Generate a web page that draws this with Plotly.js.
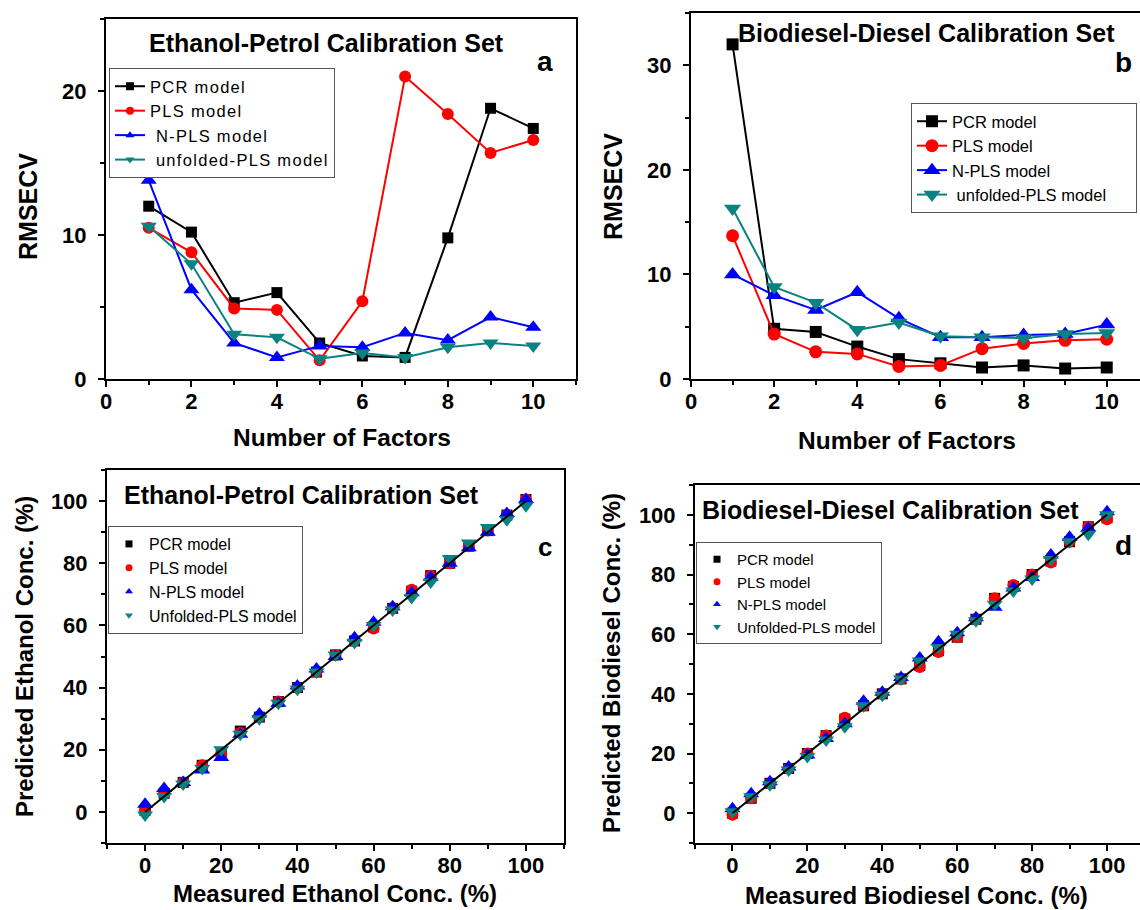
<!DOCTYPE html>
<html>
<head>
<meta charset="utf-8">
<script src="https://cdn.plot.ly/plotly-3.0.1.min.js"></script>
<style>html,body{margin:0;padding:0;background:#fff;}#chart{width:1140px;height:910px;}.legendtext{letter-spacing:1.3px;}</style>
</head>
<body>
<div id="chart"></div>
<script>
// ---------- data ----------
const factors = [1, 2, 3, 4, 5, 6, 7, 8, 9, 10];
// Panel a: Ethanol-Petrol RMSECV
const aPCR  = [12.0, 10.2, 5.3, 6.0, 2.5, 1.6, 1.5, 9.8, 18.8, 17.4];
const aPLS  = [10.5, 8.8, 4.9, 4.8, 1.3, 5.4, 21.0, 18.4, 15.7, 16.6];
const aNPLS = [13.8, 6.2, 2.5, 1.5, 2.3, 2.2, 3.2, 2.7, 4.3, 3.6];
const aUPLS = [10.6, 8.0, 3.1, 2.9, 1.4, 1.8, 1.5, 2.2, 2.5, 2.3];
// Panel b: Biodiesel-Diesel RMSECV
const bPCR  = [32.0, 4.8, 4.5, 3.1, 1.9, 1.5, 1.1, 1.3, 1.0, 1.1];
const bPLS  = [13.7, 4.3, 2.6, 2.4, 1.2, 1.3, 2.9, 3.4, 3.7, 3.8];
const bNPLS = [10.0, 8.0, 6.6, 8.3, 5.8, 4.0, 4.0, 4.2, 4.3, 5.2];
const bUPLS = [16.3, 8.8, 7.3, 4.7, 5.4, 4.1, 4.0, 3.9, 4.3, 4.4];
// Panels c, d: measured vs predicted
const measured = [0, 5, 10, 15, 20, 25, 30, 35, 40, 45, 50, 55, 60, 65, 70, 75, 80, 85, 90, 95, 100];
const cPCR  = [0.5, 6, 9.5, 15, 18.5, 26, 30.5, 35.5, 40, 45, 50.5, 55, 59.5, 65.5, 71, 76, 80, 85.5, 90.5, 95.5, 100.5];
const cPLS  = [0.5, 6, 9.5, 15, 18.5, 25.5, 30.5, 35.5, 40, 45, 50.5, 55, 59, 65.5, 71.5, 76, 80, 85.5, 90.5, 95.5, 100.5];
const cNPLS = [2.5, 7.5, 9.5, 13.5, 17.5, 25, 31.5, 35, 40.5, 46, 50, 56, 61, 66, 70.5, 75.5, 80, 85, 90, 96, 100.5];
const cUPLS = [-1, 5, 9, 14, 20, 25, 30, 35, 39.5, 45, 50.5, 54.5, 60, 65, 69, 74, 81.5, 86.5, 91.5, 94, 98.5];
const dPCR  = [0, 5, 10, 15, 20, 26, 31.5, 36, 40, 45, 49.5, 54.5, 59, 65, 72, 76, 80, 84.5, 91, 96, 99];
const dPLS  = [-0.5, 5, 10, 15, 20, 26, 32, 36, 40, 45, 49, 54, 59, 65, 72, 76.5, 80, 84, 91, 96, 98.5];
const dNPLS = [1.5, 6.5, 10.5, 15.5, 19.5, 25, 30, 37.5, 40.5, 45.5, 52, 57.5, 60.5, 65.5, 69, 75.5, 79, 86.5, 92.5, 95.5, 101];
const dUPLS = [0.5, 5.5, 9.5, 14.5, 19, 24.5, 29, 36, 39.5, 45, 51, 55.5, 60, 64.5, 70, 74.5, 78.5, 85, 91, 93.5, 100];
const fitX = [0, 100];
const fitY = [0, 100];

const NB = '\u00a0';
const modelNamesA = ['PCR model', 'PLS model', NB + 'N-PLS model', NB + 'unfolded-PLS model'];
const modelNamesB = ['PCR model', 'PLS model', 'N-PLS model', NB + 'unfolded-PLS model'];
const modelNamesCD = ['PCR model', 'PLS model', 'N-PLS model', 'Unfolded-PLS model'];
const colors = ['#000000', '#ff0000', '#0000ff', '#0a8282'];
const symbols = ['square', 'circle', 'triangle-up', 'triangle-down'];
const sizes = [11, 12, 14, 14];

// ---------- traces ----------
const traces = [];
const aSeries = [aPCR, aPLS, aNPLS, aUPLS];
const bSeries = [bPCR, bPLS, bNPLS, bUPLS];
const cSeries = [cPCR, cPLS, cNPLS, cUPLS];
const dSeries = [dPCR, dPLS, dNPLS, dUPLS];

aSeries.forEach((ys, i) => {
  traces.push({x: factors, y: ys, xaxis: 'x', yaxis: 'y', mode: 'lines+markers', showlegend: false,
    line: {color: colors[i], width: 2}, marker: {symbol: symbols[i], size: sizes[i], color: colors[i]}});
});
aSeries.forEach((ys, i) => {
  traces.push({x: [null], y: [null], xaxis: 'x', yaxis: 'y', mode: 'lines+markers', name: modelNamesA[i], legend: 'legend',
    line: {color: colors[i], width: 2}, marker: {symbol: symbols[i], size: 8, color: colors[i]}});
});
bSeries.forEach((ys, i) => {
  traces.push({x: factors, y: ys, xaxis: 'x2', yaxis: 'y2', mode: 'lines+markers', name: modelNamesB[i], legend: 'legend2',
    line: {color: colors[i], width: 2}, marker: {symbol: symbols[i], size: sizes[i] + 1, color: colors[i]}});
});
cSeries.forEach((ys, i) => {
  traces.push({x: measured, y: ys, xaxis: 'x3', yaxis: 'y3', mode: 'markers', showlegend: false,
    marker: {symbol: symbols[i], size: sizes[i], color: colors[i]}});
});
traces.push({x: fitX, y: fitY, xaxis: 'x3', yaxis: 'y3', mode: 'lines', showlegend: false, line: {color: '#000', width: 2}});
cSeries.forEach((ys, i) => {
  traces.push({x: [null], y: [null], xaxis: 'x3', yaxis: 'y3', mode: 'markers', name: modelNamesCD[i], legend: 'legend3',
    marker: {symbol: symbols[i], size: 7, color: colors[i]}});
});
dSeries.forEach((ys, i) => {
  traces.push({x: measured, y: ys, xaxis: 'x4', yaxis: 'y4', mode: 'markers', showlegend: false,
    marker: {symbol: symbols[i], size: sizes[i], color: colors[i]}});
});
traces.push({x: fitX, y: fitY, xaxis: 'x4', yaxis: 'y4', mode: 'lines', showlegend: false, line: {color: '#000', width: 2}});
dSeries.forEach((ys, i) => {
  traces.push({x: [null], y: [null], xaxis: 'x4', yaxis: 'y4', mode: 'markers', name: modelNamesCD[i], legend: 'legend4',
    marker: {symbol: symbols[i], size: 7, color: colors[i]}});
});

// ---------- layout ----------
const W = 1140, H = 910;
const px = v => v / W;
const py = v => 1 - v / H;
const FONT = 'Liberation Sans, Arial, sans-serif';
const MINOR = {ticks: 'outside', ticklen: 4, tickwidth: 2, tickcolor: '#000', tick0: 0};

function axis(extra, isY) {
  return Object.assign({
    showline: true, linecolor: '#000', linewidth: 2, mirror: true,
    ticks: 'outside', ticklen: 6, tickwidth: 2, tickcolor: '#000',
    showgrid: false, zeroline: false, fixedrange: true,
    ticklabelstandoff: isY ? 7 : -4,
    tickfont: {family: FONT, size: 22, color: '#000', weight: 'bold'}
  }, extra);
}

function legendBox(x, y, size) {
  return {x: px(x), y: py(y), xanchor: 'left', yanchor: 'top', bgcolor: '#fff', bordercolor: '#555', borderwidth: 1,
    font: {family: FONT, size: size, color: '#000'}, tracegroupgap: 0, itemwidth: 30};
}

function ann(text, x, y, size, extra) {
  return Object.assign({text: text, x: px(x), y: py(y), xref: 'paper', yref: 'paper', showarrow: false,
    xanchor: 'center', yanchor: 'middle', font: {family: FONT, size: size, color: '#000', weight: 'bold'}}, extra || {});
}

const layout = {
  width: W, height: H,
  margin: {l: 0, r: 0, t: 0, b: 0, autoexpand: false},
  paper_bgcolor: '#fff', plot_bgcolor: 'rgba(0,0,0,0)',
  font: {family: FONT, color: '#000'},
  showlegend: true,
  xaxis: axis({domain: [px(106), px(576)], range: [0, 11], anchor: 'y', dtick: 2, tick0: 0,
    minor: Object.assign({dtick: 1}, MINOR)}),
  yaxis: axis({domain: [py(379), py(19)], range: [0, 25], anchor: 'x', dtick: 10, tick0: 0,
    minor: Object.assign({dtick: 5}, MINOR)}, true),
  xaxis2: axis({domain: [px(691), 1], range: [0, 10.8], anchor: 'y2', dtick: 2, tick0: 0,
    minor: Object.assign({dtick: 1}, MINOR)}),
  yaxis2: axis({domain: [py(379), py(13)], range: [0, 35], anchor: 'x2', dtick: 10, tick0: 0, mirror: false,
    minor: Object.assign({dtick: 5}, MINOR)}, true),
  xaxis3: axis({domain: [px(107), px(564)], range: [-10, 110], anchor: 'y3', dtick: 20, tick0: 0,
    minor: Object.assign({dtick: 10}, MINOR)}),
  yaxis3: axis({domain: [py(843), py(470)], range: [-10, 110], anchor: 'x3', dtick: 20, tick0: 0,
    minor: Object.assign({dtick: 10}, MINOR)}, true),
  xaxis4: axis({domain: [px(695), 1], range: [-10, 108.8], anchor: 'y4', dtick: 20, tick0: 0,
    minor: Object.assign({dtick: 10}, MINOR)}),
  yaxis4: axis({domain: [py(843), py(485)], range: [-10, 110], anchor: 'x4', dtick: 20, tick0: 0, mirror: false,
    minor: Object.assign({dtick: 10}, MINOR)}, true),
  legend: legendBox(109, 68, 16.5),
  legend2: legendBox(911, 103, 16.5),
  legend3: legendBox(108, 526, 16),
  legend4: legendBox(696, 542, 15),
  annotations: [
    ann('Ethanol-Petrol Calibration Set', 326, 43, 25),
    ann('Biodiesel-Diesel Calibration Set', 926, 33, 25),
    ann('Ethanol-Petrol Calibration Set', 301, 495, 25),
    ann('Biodiesel-Diesel Calibration Set', 890, 510, 25),
    ann('a', 545, 62, 28),
    ann('b', 1123, 63, 28),
    ann('c', 545, 547, 26),
    ann('d', 1123, 545, 28),
    ann('Number of Factors', 342, 437, 24.5),
    ann('Number of Factors', 907, 440, 24.5),
    ann('RMSECV', 28, 207, 25, {textangle: -90}),
    ann('RMSECV', 613, 187, 25, {textangle: -90}),
    ann('Measured Ethanol Conc. (%)', 335, 893, 24),
    ann('Measured Biodiesel Conc. (%)', 916, 895, 24),
    ann('Predicted Ethanol Conc. (%)', 24, 657, 24, {textangle: -90}),
    ann('Predicted Biodiesel Conc. (%)', 611, 663, 24, {textangle: -90})
  ]
};

Plotly.newPlot('chart', traces, layout, {staticPlot: true, displayModeBar: false});
</script>
</body>
</html>
